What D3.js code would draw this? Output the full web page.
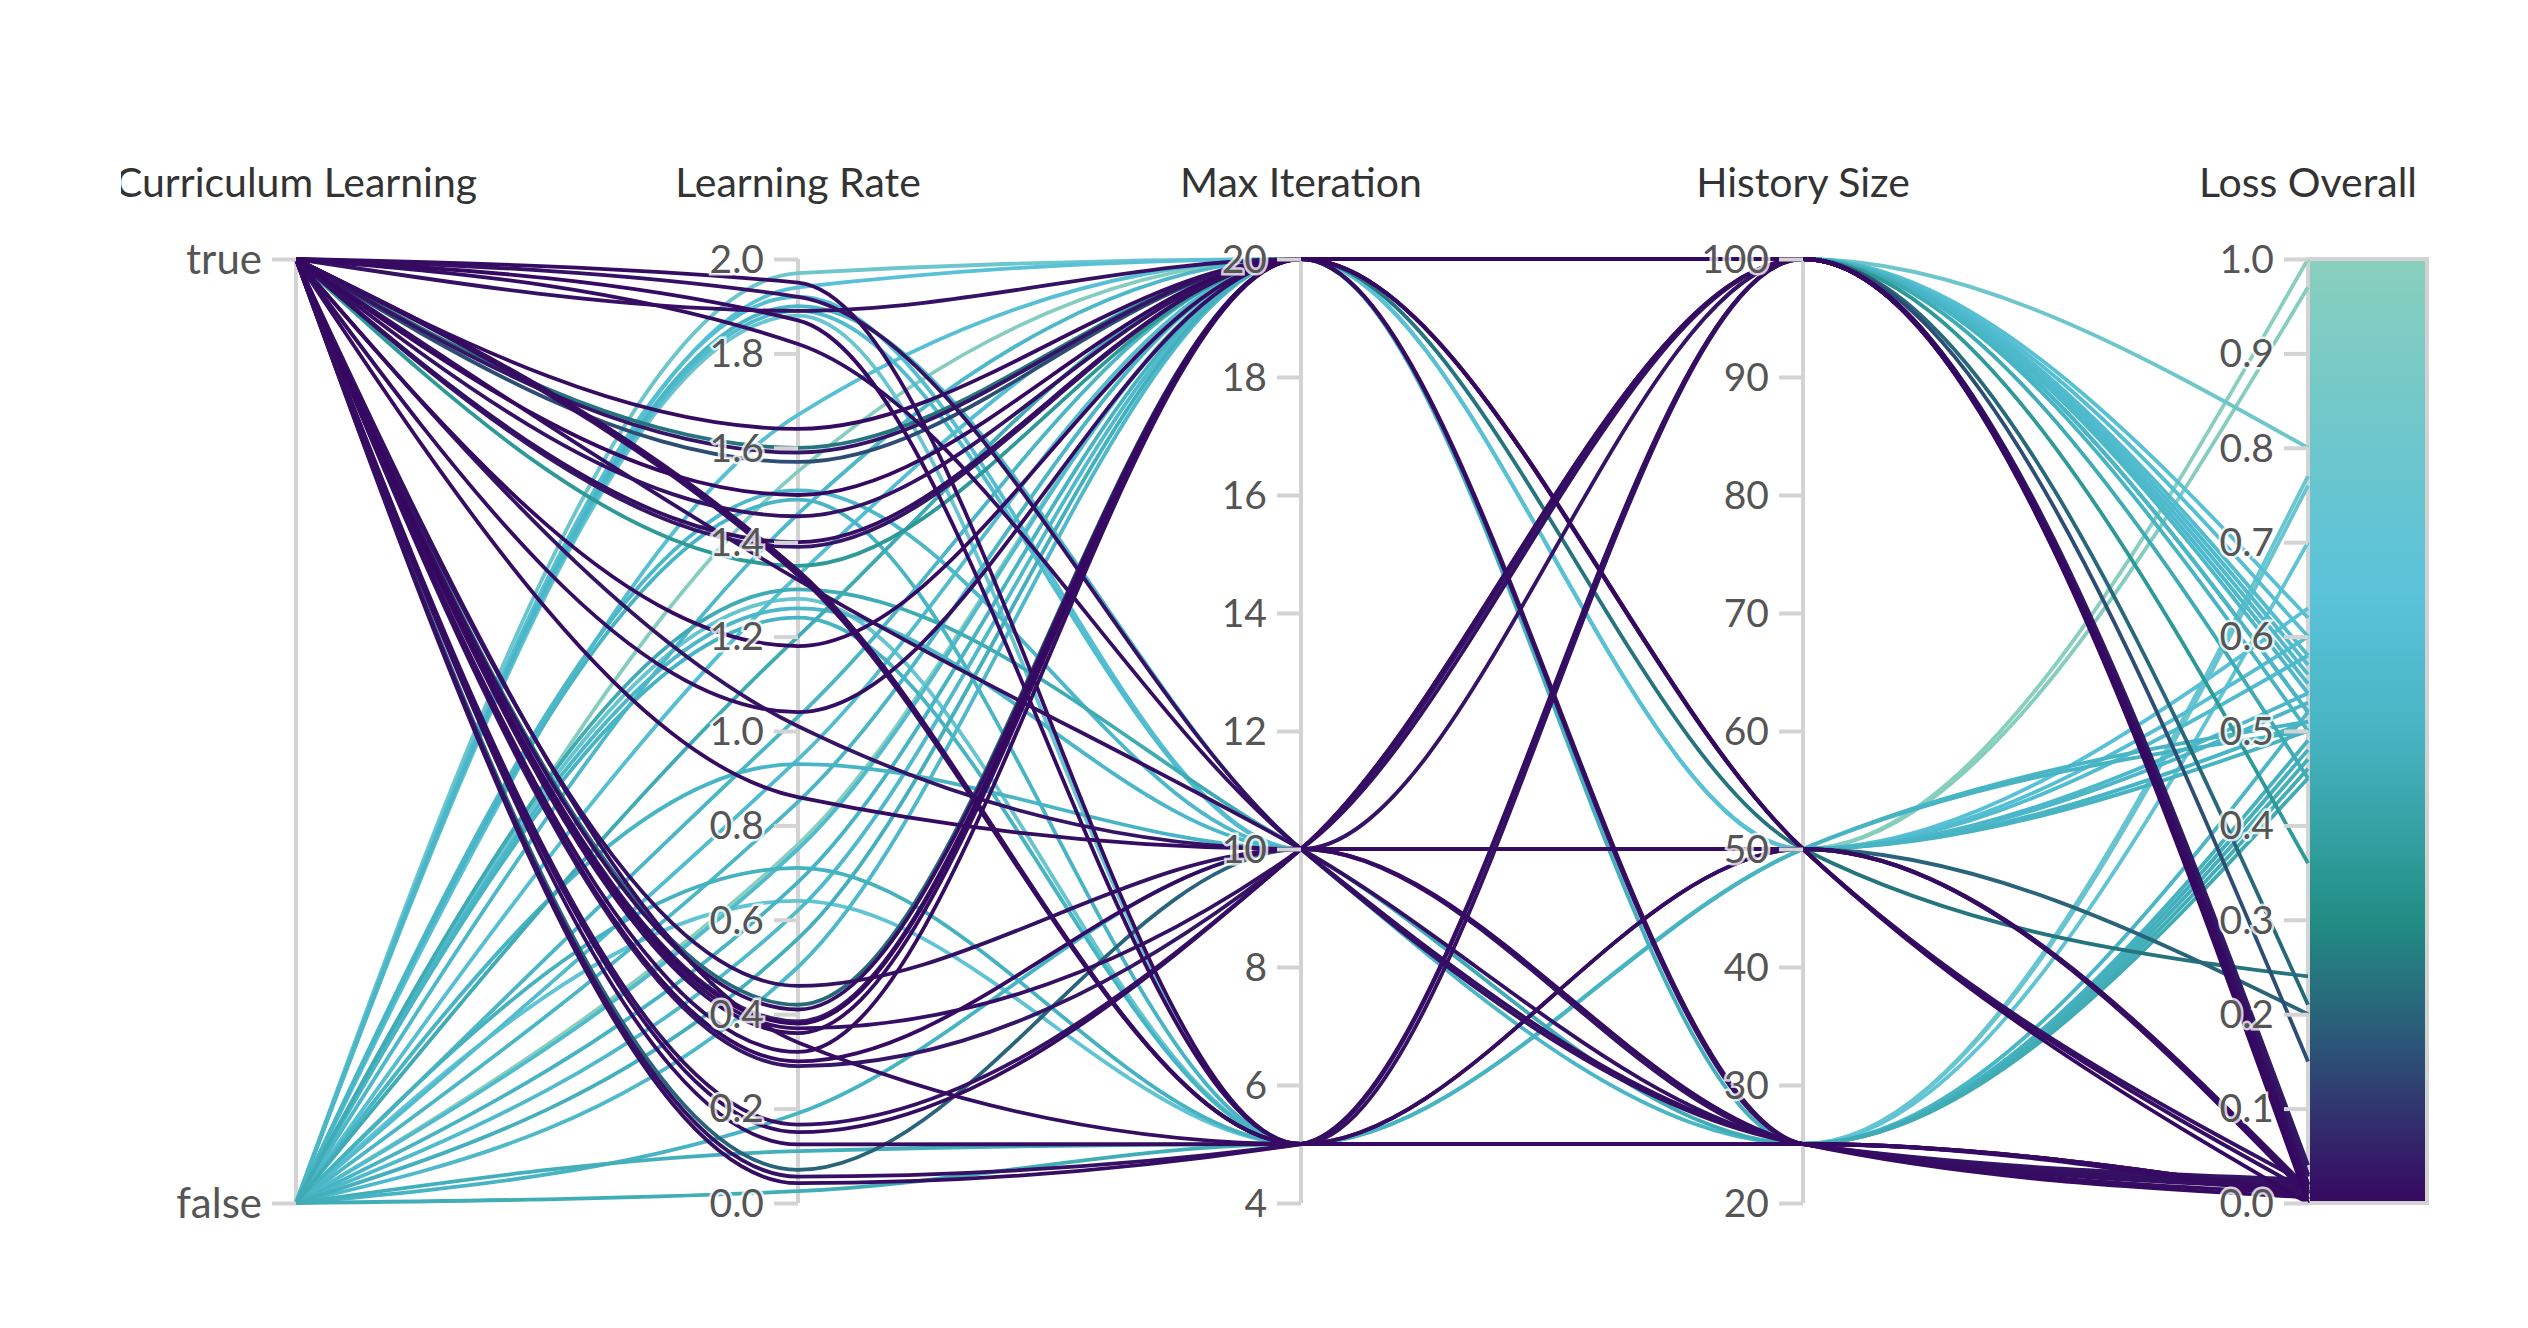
<!DOCTYPE html>
<html>
<head>
<meta charset="utf-8">
<script src="https://cdn.jsdelivr.net/npm/d3@7"></script>
<style>
  body { margin: 0; background: #fff; }
  svg { display: block; }
  text { font-family: Lato, "Noto Sans", sans-serif; }
</style>
</head>
<body>
<svg id="chart" width="2528" height="1328"></svg>
<script>
// column titles
const dimensions = ["Curriculum Learning", "Learning Rate", "Max Iteration", "History Size", "Loss Overall"];
const curriculumLevels = ["true", "false"];

// runs, one entry per run in every array
const curriculum = [
  // curriculum on
  "true","true","true","true","true","true","true","true","true","true",
  "true","true","true","true","true","true","true","true","true","true",
  "true","true","true","true","true","true","true","true","true","true",
  "true","true","true","true",
  "true","true","true","true","true",
  // curriculum off
  "false","false","false","false","false","false","false","false","false","false",
  "false","false","false","false","false","false","false","false","false","false",
  "false","false","false","false","false","false","false","false","false","false",
  "false","false"
];
const learningRate = [
  1.95, 1.89, 1.87, 1.82, 1.64, 1.59, 1.50, 1.455, 1.40, 1.39,
  1.33, 1.335, 1.32, 1.34, 1.18, 1.04, 0.86, 0.46, 0.41, 0.385,
  0.38, 0.36, 0.32, 0.29, 0.166, 0.15, 0.124, 0.056, 0.042, 0.37,
  0.34, 1.01, 0.30, 1.92,
  1.57, 1.35, 0.07, 1.60, 0.42,
  1.97, 1.67, 1.33, 0.94, 0.75, 0.62, 0.50, 1.46, 0.85, 1.03,
  0.68, 1.20, 1.55, 0.76, 1.94, 1.92, 1.89, 1.51, 1.26, 0.93,
  0.19, 1.24, 1.90, 1.30, 1.88, 1.28, 0.64, 0.71, 0.11, 0.025,
  0.56, 1.49
];
const maxIteration = [
  5, 20, 5, 10, 20, 20, 20, 20, 20, 20,
  5, 5, 10, 5, 20, 20, 10, 10, 20, 20,
  20, 20, 20, 10, 10, 10, 5, 5, 5, 10,
  5, 10, 10, 10,
  20, 20, 10, 20, 20,
  20, 20, 20, 20, 20, 20, 20, 20, 20, 20,
  20, 20, 20, 20, 20, 10, 10, 10, 10, 10,
  10, 5, 10, 10, 5, 5, 5, 5, 5, 5,
  20, 5
];
const historySize = [
  25, 100, 25, 25, 100, 25, 100, 50, 100, 100,
  100, 25, 25, 50, 100, 50, 50, 25, 100, 100,
  50, 25, 100, 100, 100, 100, 25, 100, 100, 100,
  50, 100, 25, 25,
  100, 100, 50, 50, 100,
  100, 100, 100, 100, 100, 100, 100, 100, 100, 100,
  100, 100, 50, 50, 50, 50, 50, 50, 50, 50,
  50, 50, 25, 25, 25, 25, 25, 25, 25, 25,
  25, 50
];
const lossOverall = [
  0.010, 0.020, 0.005, 0.015, 0.010, 0.025, 0.000, 0.020, 0.012, 0.030,
  0.020, 0.010, 0.018, 0.008, 0.004, 0.012, 0.010, 0.022, 0.015, 0.040,
  0.000, 0.010, 0.010, 0.030, 0.020, 0.010, 0.010, 0.020, 0.012, 0.018,
  0.015, 0.028, 0.006, 0.020,
  0.15, 0.36, 0.20, 0.24, 0.21,
  0.80, 0.62, 0.60, 0.58, 0.57, 0.56, 0.55, 0.54, 0.52, 0.52,
  0.50, 0.45, 0.97, 1.00, 0.63, 0.60, 0.58, 0.54, 0.53, 0.51,
  0.50, 0.50, 0.52, 0.45, 0.77, 0.76, 0.70, 0.49, 0.47, 0.46,
  0.48, 0.51
];

// axis ticks
const lrTicks = d3.range(0, 2.01, 0.2);
const iterTicks = [4, 6, 8, 10, 12, 14, 16, 18, 20];
const historyTicks = [20, 30, 40, 50, 60, 70, 80, 90, 100];
const lossTicks = d3.range(0, 1.01, 0.1);

// colour scale for the loss
const lossStops = [0, 0.1, 0.2, 0.3, 0.4, 0.5, 0.65, 0.8, 1.0];
const lossColors = ["#360761", "#31356f", "#29647a", "#218d84", "#36a2a5", "#47b4c3", "#5bc3da", "#6cc6cc", "#89cfbd"];

const W = 2528, H = 1328;
const yTop = 259, yBottom = 1203;
const axisX = [296, 798, 1301, 1803, 2308];

const color = d3.scaleLinear().domain(lossStops).range(lossColors).interpolate(d3.interpolateRgb);

const y = [
  d3.scalePoint().domain(curriculumLevels).range([yTop, yBottom]),
  d3.scaleLinear().domain([0, 2]).range([yBottom, yTop]),
  d3.scaleLinear().domain([4, 20]).range([yBottom, yTop]),
  d3.scaleLinear().domain([20, 100]).range([yBottom, yTop]),
  d3.scaleLinear().domain([0, 1]).range([yBottom, yTop])
];

const runs = curriculum.map((c, i) => ({
  vals: [c, learningRate[i], maxIteration[i], historySize[i], lossOverall[i]],
  loss: lossOverall[i]
}));
// low-loss runs on top
runs.sort((a, b) => b.loss - a.loss);

const svg = d3.select("#chart");
const defs = svg.append("defs");
defs.append("clipPath").attr("id", "clip")
  .append("rect").attr("x", 121).attr("y", 0).attr("width", W - 121).attr("height", H);

const grad = defs.append("linearGradient").attr("id", "lossGrad")
  .attr("x1", 0).attr("y1", 1).attr("x2", 0).attr("y2", 0);
lossStops.forEach((s, i) => {
  grad.append("stop").attr("offset", s).attr("stop-color", lossColors[i]);
});

const g = svg.append("g").attr("clip-path", "url(#clip)");

// colour bar next to the loss axis
g.append("rect")
  .attr("x", axisX[4]).attr("y", yTop)
  .attr("width", 119).attr("height", yBottom - yTop)
  .attr("fill", "url(#lossGrad)")
  .attr("stroke", "#d2d2d2").attr("stroke-width", 4);

// axis lines
const axesG = g.append("g");
axisX.forEach(x => {
  axesG.append("line")
    .attr("x1", x).attr("x2", x).attr("y1", yTop).attr("y2", yBottom)
    .attr("stroke", "#d3d3d3").attr("stroke-width", 4);
});

// lines
const line = d3.line()
  .x((d, i) => axisX[i])
  .y((d, i) => y[i](d))
  .curve(d3.curveMonotoneX);

g.append("g").selectAll("path")
  .data(runs)
  .join("path")
  .attr("d", d => line(d.vals))
  .attr("fill", "none")
  .attr("stroke", d => color(d.loss))
  .attr("stroke-width", 3.8);

// axes with ticks
const tickVals = [curriculumLevels, lrTicks, iterTicks, historyTicks, lossTicks];
const tickFmt = [d => d, d3.format(".1f"), d3.format("d"), d3.format("d"), d3.format(".1f")];

y.forEach((sc, i) => {
  const ax = d3.axisLeft(sc).tickValues(tickVals[i]).tickFormat(tickFmt[i]).tickSize(24).tickPadding(10);
  const a = g.append("g").attr("transform", `translate(${axisX[i]},0)`).call(ax);
  a.select(".domain").remove();
  a.selectAll(".tick line").attr("stroke", "#d3d3d3").attr("stroke-width", 4);
  a.selectAll(".tick text")
    .attr("fill", "#555")
    .style("font-size", i === 0 ? "42px" : "39px")
    .style("font-family", "Lato, 'Noto Sans', sans-serif")
    .attr("stroke", "#fff").attr("stroke-width", 5).attr("stroke-opacity", 0.8)
    .attr("paint-order", "stroke")
    .attr("dy", "0.34em");
});

// titles
g.append("g").selectAll("text")
  .data(dimensions)
  .join("text")
  .attr("x", (d, i) => axisX[i])
  .attr("y", 197)
  .attr("text-anchor", "middle")
  .attr("fill", "#333")
  .style("font-size", "41px")
  .text(d => d);
</script>
</body>
</html>
